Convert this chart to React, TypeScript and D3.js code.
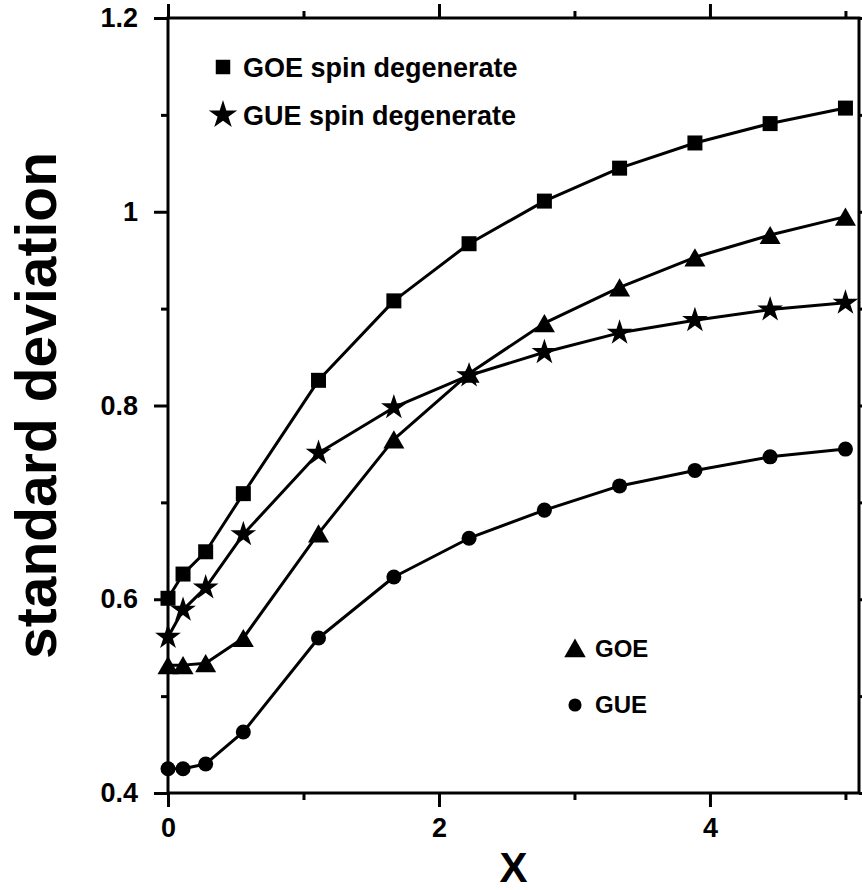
import React, { useEffect, useRef } from "react";
import * as d3 from "d3";

// x positions of the computed points
const xValues = [0, 0.111, 0.278, 0.556, 1.111, 1.667, 2.222, 2.778, 3.333, 3.889, 4.444, 5];

// standard deviation for each ensemble
const goeSpinDegenerate = [0.601, 0.626, 0.649, 0.709, 0.826, 0.908, 0.967, 1.011, 1.045, 1.071, 1.091, 1.107];
const gueSpinDegenerate = [0.561, 0.589, 0.612, 0.667, 0.751, 0.798, 0.831, 0.855, 0.875, 0.888, 0.899, 0.906];
const goeValues = [0.532, 0.532, 0.534, 0.56, 0.668, 0.765, 0.833, 0.885, 0.922, 0.953, 0.976, 0.995];
const gueValues = [0.425, 0.425, 0.43, 0.463, 0.56, 0.623, 0.663, 0.692, 0.717, 0.733, 0.747, 0.755];

// ticks
const xMajorTicks = [0, 2, 4];
const xTickLabels = ["0", "2", "4"];
const xMinorTicks = [1, 3, 5];
const yMajorTicks = [0.4, 0.6, 0.8, 1, 1.2];
const yTickLabels = ["0.4", "0.6", "0.8", "1", "1.2"];
const yMinorTicks = [0.5, 0.7, 0.9, 1.1];

const FONT = "'Liberation Sans', Arial, Helvetica, sans-serif";

export default function App() {
  const svgRef = useRef<SVGSVGElement>(null);

  useEffect(() => {
    const svg = d3.select(svgRef.current);
    svg.selectAll("*").remove();

    const x = d3.scaleLinear().domain([0, 5.1]).range([168, 859]);
    const y = d3.scaleLinear().domain([0.4, 1.2]).range([793, 18]);

    const styleAxis = (g: any) => {
      g.select(".domain").remove();
      g.selectAll("line").attr("stroke", "#000").attr("stroke-width", 3);
      g.selectAll("text")
        .attr("fill", "#000")
        .attr("font-family", FONT)
        .attr("font-weight", "bold")
        .attr("font-size", 27);
    };

    const noLabel = () => "";

    // bottom
    svg.append("g")
      .attr("transform", `translate(0,${y(0.4)})`)
      .call(d3.axisBottom(x).tickValues(xMajorTicks).tickSize(14).tickPadding(11)
        .tickFormat((d, i) => xTickLabels[i]))
      .call(styleAxis);
    svg.append("g")
      .attr("transform", `translate(0,${y(0.4)})`)
      .call(d3.axisBottom(x).tickValues(xMinorTicks).tickSize(7).tickFormat(noLabel))
      .call(styleAxis);

    // top
    svg.append("g")
      .attr("transform", `translate(0,${y(1.2)})`)
      .call(d3.axisTop(x).tickValues(xMajorTicks).tickSize(14).tickFormat(noLabel))
      .call(styleAxis);
    svg.append("g")
      .attr("transform", `translate(0,${y(1.2)})`)
      .call(d3.axisTop(x).tickValues(xMinorTicks).tickSize(7).tickFormat(noLabel))
      .call(styleAxis);

    // left
    svg.append("g")
      .attr("transform", `translate(${x(0)},0)`)
      .call(d3.axisLeft(y).tickValues(yMajorTicks).tickSize(14).tickPadding(16)
        .tickFormat((d, i) => yTickLabels[i]))
      .call(styleAxis);
    svg.append("g")
      .attr("transform", `translate(${x(0)},0)`)
      .call(d3.axisLeft(y).tickValues(yMinorTicks).tickSize(7).tickFormat(noLabel))
      .call(styleAxis);

    // right
    svg.append("g")
      .attr("transform", `translate(${x(5.1)},0)`)
      .call(d3.axisRight(y).tickValues(yMajorTicks).tickSize(14).tickFormat(noLabel))
      .call(styleAxis);
    svg.append("g")
      .attr("transform", `translate(${x(5.1)},0)`)
      .call(d3.axisRight(y).tickValues(yMinorTicks).tickSize(7).tickFormat(noLabel))
      .call(styleAxis);

    // frame
    svg.append("rect")
      .attr("x", x(0))
      .attr("y", y(1.2))
      .attr("width", x(5.1) - x(0))
      .attr("height", y(0.4) - y(1.2))
      .attr("fill", "none")
      .attr("stroke", "#000")
      .attr("stroke-width", 3);

    // triangle symbol has its centroid at origin; shift so bbox is centred
    const triSize = 191;
    const triShift = Math.sqrt(triSize / (Math.sqrt(3) * 3)) / 2;

    const series = [
      { values: goeSpinDegenerate, type: d3.symbolSquare, size: 225, dy: 0 },
      { values: gueSpinDegenerate, type: d3.symbolStar, size: 205, dy: 0 },
      { values: goeValues, type: d3.symbolTriangle, size: triSize, dy: triShift },
      { values: gueValues, type: d3.symbolCircle, size: 177, dy: 0 },
    ];

    const line = d3.line<number>()
      .x((d, i) => x(xValues[i]))
      .y((d) => y(d));

    series.forEach((s) => {
      svg.append("path")
        .attr("d", line(s.values))
        .attr("fill", "none")
        .attr("stroke", "#000")
        .attr("stroke-width", 3)
        .attr("stroke-linejoin", "round");
    });

    series.forEach((s) => {
      svg.append("g")
        .selectAll("path")
        .data(s.values)
        .enter()
        .append("path")
        .attr("transform", (d, i) => `translate(${x(xValues[i])},${y(d) + s.dy})`)
        .attr("d", d3.symbol().type(s.type).size(s.size)())
        .attr("fill", "#000");
    });

    // legends
    const legend = [
      { label: "GOE spin degenerate", type: d3.symbolSquare, size: 210, mx: 223, my: 67, tx: 243, ty: 77, fs: 27 },
      { label: "GUE spin degenerate", type: d3.symbolStar, size: 250, mx: 223, my: 115, tx: 243, ty: 125, fs: 27 },
      { label: "GOE", type: d3.symbolTriangle, size: 200, mx: 575, my: 651, tx: 595, ty: 657, fs: 24 },
      { label: "GUE", type: d3.symbolCircle, size: 135, mx: 575, my: 705, tx: 595, ty: 713, fs: 24 },
    ];
    legend.forEach((l) => {
      svg.append("path")
        .attr("transform", `translate(${l.mx},${l.my})`)
        .attr("d", d3.symbol().type(l.type).size(l.size)())
        .attr("fill", "#000");
      svg.append("text")
        .attr("x", l.tx)
        .attr("y", l.ty)
        .attr("font-family", FONT)
        .attr("font-weight", "bold")
        .attr("font-size", l.fs)
        .attr("fill", "#000")
        .text(l.label);
    });

    // axis titles
    svg.append("text")
      .attr("transform", `translate(56,${(y(0.4) + y(1.2)) / 2}) rotate(-90)`)
      .attr("text-anchor", "middle")
      .attr("font-family", FONT)
      .attr("font-weight", "bold")
      .attr("font-size", 57)
      .attr("textLength", 507)
      .attr("lengthAdjust", "spacingAndGlyphs")
      .attr("fill", "#000")
      .text("standard deviation");

    svg.append("text")
      .attr("x", (x(0) + x(5.1)) / 2)
      .attr("y", 882)
      .attr("text-anchor", "middle")
      .attr("font-family", FONT)
      .attr("font-weight", "bold")
      .attr("font-size", 42)
      .attr("fill", "#000")
      .text("X");
  }, []);

  return (
    <svg
      ref={svgRef}
      width={862}
      height={890}
      style={{ position: "absolute", left: 0, top: 0, background: "#fff" }}
    />
  );
}
